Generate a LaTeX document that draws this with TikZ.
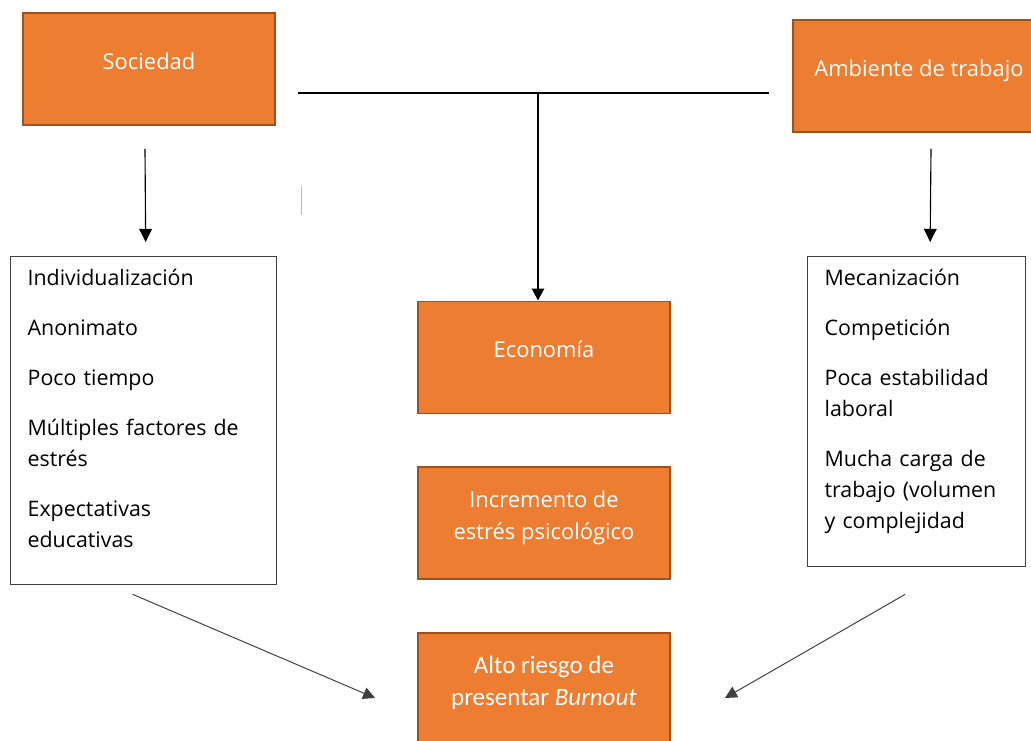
\documentclass[tikz,border=0pt]{standalone}
\usepackage{fontspec}
\setmainfont{Open Sans}
\newfontfamily\calibrifont{Carlito}
\usetikzlibrary{arrows.meta,positioning,calc}
\definecolor{clrOr}{RGB}{237,125,49}
\definecolor{clrOrD}{RGB}{160,82,30}
\definecolor{clrFr}{RGB}{64,64,64}
\tikzset{
  factor/.style={rectangle,draw=clrOrD,fill=clrOr,line width=1.3pt,
    minimum width=6.3cm,minimum height=2.8cm,inner sep=0pt},
  ftext/.style={text=white,font=\fontsize{15.6}{22.6}\selectfont,align=center,
    yshift=0.2cm,inner sep=0pt},
  listbox/.style={rectangle,draw=clrFr,line width=0.9pt,anchor=north west,
    align=left,inner xsep=0.425cm,inner ysep=0pt,text height=0.725cm,
    font=\fontsize{15.2}{22.05}\selectfont},
  arrow/.style={-{Triangle[length=0.33cm,width=0.32cm]},line width=0.8pt},
  bar/.style={line width=1.8pt},
  mainarrow/.style={bar,-{Triangle[length=0.3cm,width=0.3cm]}},
  diag/.style={arrow,draw=clrFr,line width=0.7pt,
    -{Triangle[length=0.3cm,width=0.3cm]}}
}
\begin{document}
\begin{tikzpicture}[x=0.025cm,y=-0.025cm]
  \useasboundingbox (0,0) rectangle (1031,741);
  \clip (0,0) rectangle (1031,741);
  \node[factor,label={[ftext]center:Sociedad}] (soc) at (149,69) {};
  \node[factor,label={[ftext,yshift=-0.075cm]center:Ambiente de trabajo}] (amb) at (919,76) {};
  \node[factor,label={[ftext]center:Economía}] (eco) at (544,357.5) {};
  \node[factor,label={[ftext,yshift=-0.075cm]center:Incremento de\\estrés psicológico}] (inc) at (544,523) {};
  \node[factor,label={[ftext,yshift=-0.05cm,font=\calibrifont\fontsize{17.8}{22.6}\selectfont]center:Alto riesgo de\\presentar \textit{Burnout}}] (burn) at (544,689) {};
  \node[listbox,text width=5.8cm,text depth=7.475cm] (soclist) at (10,256)
    {Individualización\\[0.475cm]Anonimato\\[0.475cm]Poco tiempo\\[0.475cm]%
     Múltiples factores de\\estrés\\[0.475cm]Expectativas\\educativas};
  \node[listbox,text width=4.6cm,text depth=7.025cm] (amblist) at (807,256)
    {Mecanización\\[0.475cm]Competición\\[0.475cm]Poca estabilidad\\laboral\\[0.475cm]%
     Mucha carga de\\trabajo (volumen\\y complejidad};
  \coordinate (barL) at (298,93);
  \coordinate (barR) at (769,93);
  \coordinate (barM) at (538,93);
  \draw[bar] (barL) -- (barR);
  \draw[mainarrow] (barM) -- (barM |- eco.north);
  \draw[arrow] ($(soc.south)+(-4,23)$) -- ($(soclist.north)+(2,-14)$);
  \draw[arrow] ($(amb.south)+(12,16)$) -- ($(amblist.north)+(13.5,-14)$);
  \draw[diag] ($(soclist.south)+(-11,9)$) -- ($(burn.west)+(-42,9)$);
  \draw[diag] ($(amblist.south)+(-11.5,27)$) -- ($(burn.east)+(54,9)$);
  \draw[gray!55,line width=0.6pt] (301,186) -- (301,215);
\end{tikzpicture}
\end{document}
